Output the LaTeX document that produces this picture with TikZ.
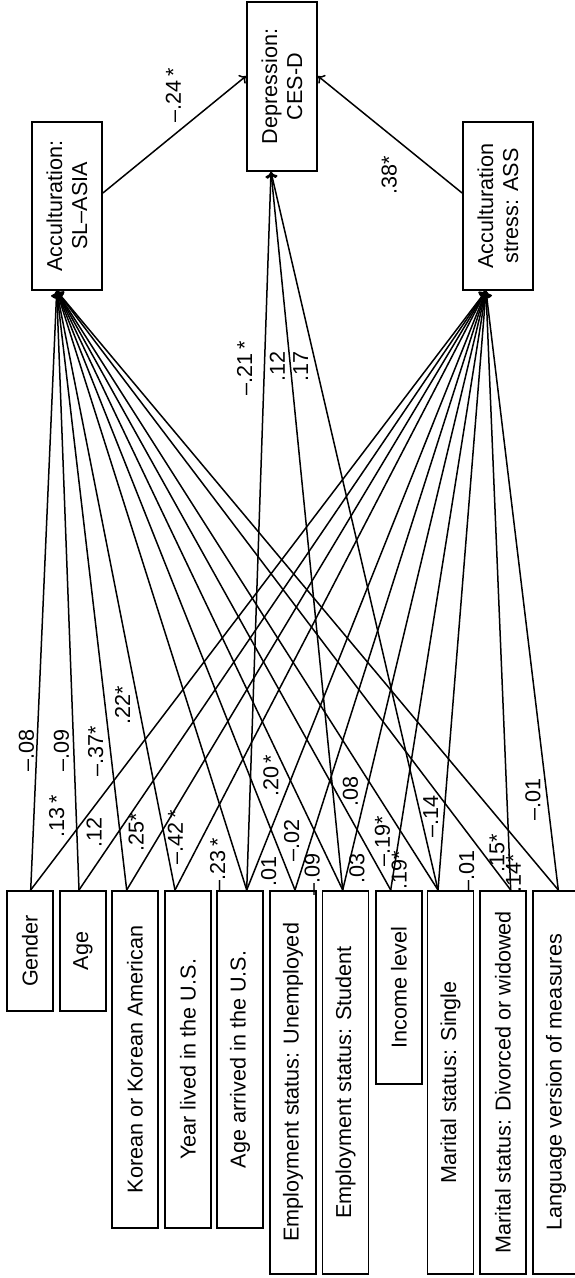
\documentclass[tikz,border=0pt]{standalone}
\usepackage{fontspec}
\setmainfont{Liberation Sans}
\usetikzlibrary{arrows.meta, positioning, calc}

\begin{document}
\begin{tikzpicture}[x=0.5pt, y=-0.5pt,
  every node/.style={font=\fontsize{10.8}{12.5}\selectfont},
  box/.style={draw, line width=0.9pt, rotate=90, inner sep=2pt, align=center},
  pred/.style={box, minimum height=23pt, anchor=east},
  link/.style={line width=0.75pt, -{To[length=3pt,width=5.5pt]}},
  lbl/.style={rotate=90, inner sep=1.5pt}]
\useasboundingbox (0,0) rectangle (574,1278);
% Outcomes
\node[box, minimum width=84pt, minimum height=35pt] (sl) at (67,206) {Acculturation:\\SL–ASIA};
\node[box, minimum width=84.5pt, minimum height=35pt] (dep) at (282,86.5) {Depression:\\CES-D};
\node[box, minimum width=84pt, minimum height=35pt] (ass) at (498,206) {Acculturation\\stress: ASS};
% Predictors
\node[pred, minimum width=60pt] (gender) at (30,890) {Gender};
\node[pred, minimum width=60pt] (age) at (83,890) {Age};
\node[pred, minimum width=168.5pt] (korean) at (135,890) {Korean or Korean American};
\node[pred, minimum width=168.5pt] (year) at (188,890) {Year lived in the U.S.};
\node[pred, minimum width=168.5pt] (arrived) at (240,890) {Age arrived in the U.S.};
\node[pred, minimum width=191.5pt] (unemp) at (293,890) {Employment status: Unemployed};
\node[pred, minimum width=191.5pt] (student) at (345.5,890) {Employment status: Student};
\node[pred, minimum width=96.5pt] (income) at (399,890) {Income level};
\node[pred, minimum width=191.5pt] (single) at (450.5,890) {Marital status: Single};
\node[pred, minimum width=191.5pt] (divorced) at (503,890) {Marital status: Divorced or widowed};
\node[pred, minimum width=191.5pt] (language) at (556,890) {Language version of measures};
% Arrow ends
\coordinate (sl-in) at ($(sl.west)+(-10.3,0)$);
\coordinate (ass-in) at ($(ass.west)+(-12,0)$);
\coordinate (dep-in) at ($(dep.west)+(-11,0)$);
\coordinate (sl-out) at ($(sl.south)+(0,-13)$);
\coordinate (ass-out) at ($(ass.north)+(0,-13)$);
\coordinate (dep-l) at ($(dep.north)+(0,-10.5)$);
\coordinate (dep-r) at ($(dep.south)+(0,-10.5)$);
\foreach \n/\d in {gender/0.7, age/-4, korean/-8.3, year/-13, arrived/6.7,
  unemp/2, student/-2.8, income/-8.3, single/-12.5, divorced/7.7, language/2.3}
  \coordinate (\n-o) at ($(\n.east)+(\d,0)$);
% Paths to the mediators
\foreach \n/\ta/\la/\tb/\ab/\lb in {
  gender/0.275/{–.08}/0.082/south west/{.13\,*},
  age/0.275/{–.09}/0.065/south west/{.12},
  korean/0.28/{–.37*}/0.058/south west/{.25*},
  year/0.347/{.22*}/0.037/south west/{–.42\,*},
  arrived/0.093/{–.23\,*}/0.149/south west/{.20\,*},
  unemp/0.063/{.01}/0.042/south west/{–.02},
  student/0.067/{–.09}/0.133/south west/{.08},
  income/0.067/{.03}/0.033/south west/{–.19*},
  single/0.072/{.19*}/0.082/south west/{–.14},
  divorced/0.072/{–.01}/0.1/south east/{.15*},
  language/0.067/{.14*}/0.192/south east/{–.01}}
{
  \draw[link] (\n-o) -- (sl-in) node[lbl, pos=\ta, anchor=south east] {\la};
  \draw[link] (\n-o) -- (ass-in) node[lbl, pos=\tb, anchor=\ab] {\lb};
}
% Direct paths to depression
\draw[link] (arrived-o) -- (dep-in) node[xshift=-4.7pt, lbl, pos=0.769, anchor=south east] {–.21\,*};
\draw[link] (student-o) -- (dep-in) node[lbl, pos=0.755, anchor=south east] {.12};
\draw[link] (single-o) -- (dep-in) node[lbl, pos=0.755, anchor=south east] {.17};
\draw[link] (sl-out) -- (dep-l) node[lbl, pos=0.57, anchor=south west] {–.24\,*};
\draw[link] (ass-out) -- (dep-r) node[xshift=-5.5pt, lbl, pos=0.35, anchor=south east] {.38*};
\end{tikzpicture}
\end{document}
